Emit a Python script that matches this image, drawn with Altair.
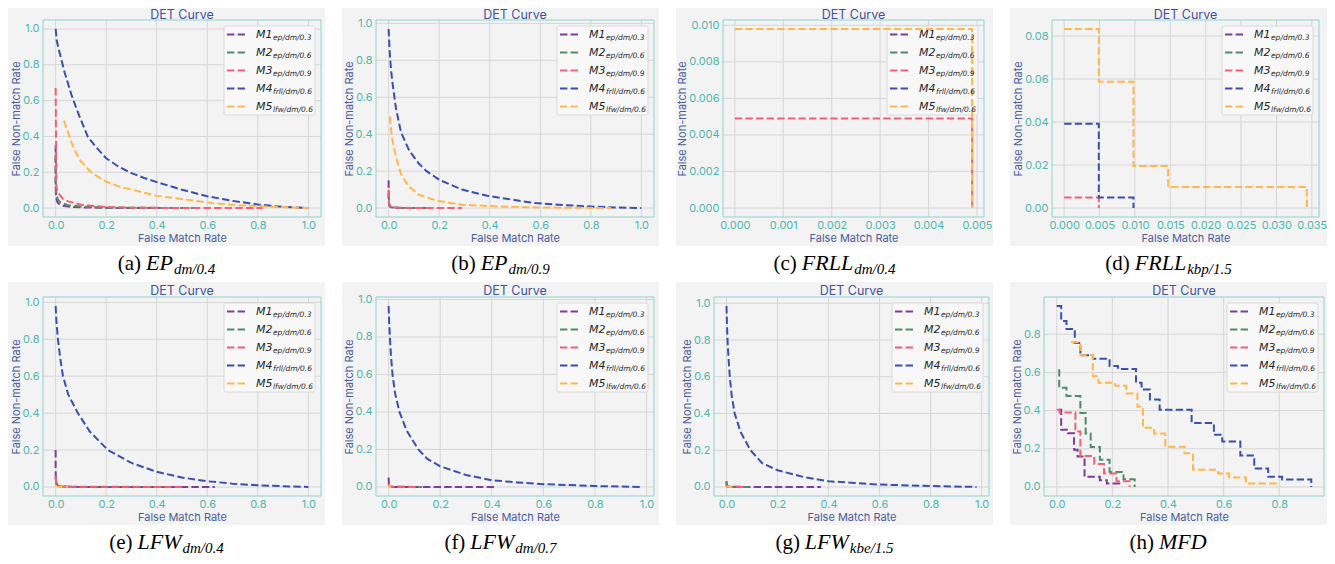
import altair as alt
import pandas as pd

# ---------------- data ----------------
MODELS = ["M1", "M2", "M3", "M4", "M5"]
MODEL_SUBS = ["ep/dm/0.3", "ep/dm/0.6", "ep/dm/0.9", "frll/dm/0.6", "lfw/dm/0.6"]
COLORS = ["#7c3f98", "#4f8b6b", "#f0607c", "#3a4fae", "#ffb74d"]

PANEL_LABELS = ["(a)", "(b)", "(c)", "(d)", "(e)", "(f)", "(g)", "(h)"]
PANEL_NAMES = ["EP", "EP", "FRLL", "FRLL", "LFW", "LFW", "LFW", "MFD"]
PANEL_SUBS = ["dm/0.4", "dm/0.9", "dm/0.4", "kbp/1.5", "dm/0.4", "dm/0.7", "kbe/1.5", ""]

TICKS_UNIT = [0.0, 0.2, 0.4, 0.6, 0.8, 1.0]
TICKS_MFD = [0.0, 0.2, 0.4, 0.6, 0.8]
TICKS_C_X = [0.000, 0.001, 0.002, 0.003, 0.004, 0.005]
TICKS_C_Y = [0.000, 0.002, 0.004, 0.006, 0.008, 0.010]
TICKS_D_X = [0.000, 0.005, 0.010, 0.015, 0.020, 0.025, 0.030, 0.035]
TICKS_D_Y = [0.00, 0.02, 0.04, 0.06, 0.08]

CURVES_A = {
    "M1": ([0.0, 0.0, 0.001, 0.003, 0.008, 0.02, 0.05, 0.1, 0.2, 0.45],
           [0.35, 0.15, 0.08, 0.05, 0.03, 0.015, 0.008, 0.004, 0.001, 0.0]),
    "M2": ([0.0, 0.0, 0.002, 0.005, 0.01, 0.02, 0.05, 0.1, 0.2, 0.55],
           [0.30, 0.14, 0.09, 0.065, 0.045, 0.03, 0.016, 0.008, 0.002, 0.0]),
    "M3": ([0.0, 0.002, 0.003, 0.008, 0.016, 0.03, 0.05, 0.1, 0.2, 0.3, 0.5, 0.82],
           [0.67, 0.3, 0.12, 0.09, 0.074, 0.05, 0.037, 0.019, 0.006, 0.002, 0.0, 0.0]),
    "M4": ([0.0, 0.005, 0.016, 0.036, 0.062, 0.088, 0.128, 0.16, 0.2, 0.25, 0.3, 0.35, 0.4, 0.5, 0.6, 0.7, 0.8, 0.9, 1.0],
           [1.0, 0.93, 0.866, 0.755, 0.635, 0.534, 0.396, 0.34, 0.278, 0.23, 0.195, 0.168, 0.145, 0.102, 0.066, 0.04, 0.02, 0.006, 0.0]),
    "M5": ([0.033, 0.05, 0.062, 0.08, 0.1, 0.14, 0.2, 0.25, 0.31, 0.4, 0.5, 0.6, 0.7, 0.84, 1.0],
           [0.488, 0.42, 0.37, 0.31, 0.26, 0.2, 0.147, 0.12, 0.1, 0.068, 0.05, 0.031, 0.018, 0.008, 0.0]),
}
CURVES_B = {
    "M1": ([0.0, 0.0, 0.001, 0.003, 0.008, 0.02, 0.05, 0.1],
           [0.15, 0.06, 0.03, 0.012, 0.005, 0.002, 0.0, 0.0]),
    "M2": ([0.0, 0.002, 0.006, 0.015, 0.04, 0.17],
           [0.08, 0.02, 0.008, 0.003, 0.001, 0.0]),
    "M3": ([0.0, 0.002, 0.006, 0.015, 0.04, 0.1, 0.29],
           [0.1, 0.025, 0.01, 0.005, 0.002, 0.0, 0.0]),
    "M4": ([0.0, 0.004, 0.01, 0.016, 0.029, 0.049, 0.082, 0.12, 0.15, 0.2, 0.29, 0.39, 0.49, 0.58, 0.69, 0.82, 0.9, 1.0],
           [0.97, 0.85, 0.74, 0.67, 0.54, 0.41, 0.31, 0.24, 0.2, 0.153, 0.1, 0.067, 0.045, 0.027, 0.016, 0.007, 0.003, 0.0]),
    "M5": ([0.005, 0.01, 0.016, 0.03, 0.05, 0.08, 0.12, 0.19, 0.29, 0.43, 0.56, 0.7, 0.88],
           [0.495, 0.42, 0.36, 0.27, 0.18, 0.117, 0.072, 0.04, 0.018, 0.009, 0.004, 0.002, 0.0]),
}
CURVES_C = {
    "M1": ([0.0049], [0.0]),
    "M2": ([0.0049], [0.0]),
    "M3": ([0.0, 0.0049, 0.0049], [0.0049, 0.0049, 0.0]),
    "M4": ([0.0049], [0.0]),
    "M5": ([0.0, 0.0049, 0.0049], [0.0098, 0.0098, 0.0]),
}
CURVES_D = {
    "M1": ([0.0], [0.0]),
    "M2": ([0.0], [0.0]),
    "M3": ([0.0, 0.0049, 0.0049], [0.0049, 0.0049, 0.0]),
    "M4": ([0.0, 0.0049, 0.0049, 0.0098, 0.0098], [0.0392, 0.0392, 0.0049, 0.0049, 0.0]),
    "M5": ([0.0, 0.0049, 0.0049, 0.0098, 0.0098, 0.0147, 0.0147, 0.0343, 0.0343],
           [0.0833, 0.0833, 0.0588, 0.0588, 0.0196, 0.0196, 0.0098, 0.0098, 0.0]),
}
CURVES_E = {
    "M1": ([0.0, 0.0, 0.001, 0.004, 0.01, 0.03, 0.1, 0.63],
           [0.2, 0.1, 0.04, 0.015, 0.007, 0.003, 0.0, 0.0]),
    "M2": ([0.0, 0.002, 0.006, 0.02, 0.06, 0.45], [0.05, 0.02, 0.008, 0.003, 0.0, 0.0]),
    "M3": ([0.0, 0.002, 0.006, 0.02, 0.06, 0.5], [0.06, 0.025, 0.01, 0.004, 0.001, 0.0]),
    "M4": ([0.0, 0.003, 0.009, 0.018, 0.029, 0.05, 0.088, 0.135, 0.207, 0.3, 0.4, 0.5, 0.6, 0.7, 0.8, 0.9, 1.0],
           [0.98, 0.9, 0.8, 0.7, 0.6, 0.5, 0.4, 0.3, 0.2, 0.13, 0.082, 0.051, 0.031, 0.018, 0.009, 0.004, 0.0]),
    "M5": ([0.0, 0.005, 0.02, 0.05], [0.01, 0.003, 0.001, 0.0]),
}
CURVES_F = {
    "M1": ([0.0, 0.001, 0.004, 0.015, 0.42], [0.05, 0.01, 0.003, 0.0, 0.0]),
    "M2": ([0.0, 0.003, 0.01, 0.13], [0.02, 0.004, 0.001, 0.0]),
    "M3": ([0.0, 0.003, 0.01, 0.12], [0.015, 0.004, 0.001, 0.0]),
    "M4": ([0.0, 0.002, 0.005, 0.009, 0.015, 0.025, 0.042, 0.07, 0.115, 0.15, 0.2, 0.3, 0.4, 0.5, 0.6, 0.8, 0.98],
           [0.965, 0.88, 0.8, 0.7, 0.6, 0.5, 0.4, 0.3, 0.2, 0.15, 0.11, 0.064, 0.036, 0.024, 0.015, 0.005, 0.0]),
    "M5": ([0.0, 0.004, 0.01], [0.01, 0.002, 0.0]),
}
CURVES_G = {
    "M1": ([0.0, 0.001, 0.005, 0.37], [0.03, 0.006, 0.0, 0.0]),
    "M2": ([0.0, 0.002, 0.01, 0.09], [0.03, 0.006, 0.001, 0.0]),
    "M3": ([0.0, 0.003, 0.07], [0.01, 0.002, 0.0]),
    "M4": ([0.0, 0.002, 0.004, 0.008, 0.013, 0.02, 0.032, 0.055, 0.094, 0.14, 0.2, 0.3, 0.4, 0.5, 0.6, 0.8, 0.98],
           [0.985, 0.88, 0.8, 0.7, 0.6, 0.5, 0.4, 0.3, 0.2, 0.13, 0.091, 0.055, 0.031, 0.022, 0.013, 0.005, 0.0]),
    "M5": ([0.0, 0.005, 0.02], [0.005, 0.001, 0.0]),
}
CURVES_H = {
    "M1": ([0.009, 0.016, 0.016, 0.04, 0.04, 0.062, 0.062, 0.075, 0.075, 0.1, 0.1, 0.155, 0.155, 0.18, 0.18, 0.225, 0.225],
           [0.405, 0.405, 0.30, 0.30, 0.282, 0.282, 0.195, 0.195, 0.16, 0.16, 0.053, 0.053, 0.035, 0.035, 0.018, 0.018, 0.0]),
    "M2": ([0.009, 0.009, 0.035, 0.035, 0.085, 0.085, 0.104, 0.104, 0.122, 0.122, 0.155, 0.155, 0.19, 0.19, 0.24, 0.24, 0.28, 0.28],
           [0.617, 0.52, 0.52, 0.476, 0.476, 0.388, 0.388, 0.28, 0.28, 0.21, 0.21, 0.143, 0.143, 0.078, 0.078, 0.04, 0.04, 0.0]),
    "M3": ([0.0, 0.01, 0.01, 0.067, 0.067, 0.085, 0.085, 0.135, 0.135, 0.17, 0.17, 0.215, 0.215, 0.262, 0.262],
           [0.405, 0.405, 0.39, 0.39, 0.29, 0.29, 0.162, 0.162, 0.12, 0.12, 0.07, 0.07, 0.03, 0.03, 0.0]),
    "M4": ([0.0, 0.016, 0.016, 0.035, 0.035, 0.065, 0.065, 0.085, 0.085, 0.13, 0.13, 0.19, 0.19, 0.22, 0.22,
            0.285, 0.285, 0.305, 0.305, 0.335, 0.335, 0.37, 0.37, 0.485, 0.485, 0.565, 0.565, 0.595, 0.595,
            0.66, 0.66, 0.71, 0.71, 0.76, 0.76, 0.81, 0.81, 0.915, 0.915],
           [0.948, 0.948, 0.87, 0.87, 0.828, 0.828, 0.754, 0.754, 0.69, 0.69, 0.672, 0.672, 0.634, 0.634, 0.618,
            0.618, 0.546, 0.546, 0.511, 0.511, 0.458, 0.458, 0.405, 0.405, 0.335, 0.335, 0.273, 0.273, 0.238,
            0.238, 0.165, 0.165, 0.097, 0.097, 0.053, 0.053, 0.039, 0.039, 0.0]),
    "M5": ([0.052, 0.085, 0.085, 0.13, 0.13, 0.15, 0.15, 0.21, 0.21, 0.25, 0.25, 0.29, 0.29, 0.31, 0.31, 0.35,
            0.35, 0.39, 0.39, 0.46, 0.46, 0.49, 0.49, 0.58, 0.58, 0.62, 0.62, 0.68, 0.68, 0.79, 0.79],
           [0.758, 0.758, 0.69, 0.69, 0.58, 0.58, 0.546, 0.546, 0.53, 0.53, 0.49, 0.49, 0.42, 0.42, 0.31, 0.31,
            0.28, 0.28, 0.211, 0.211, 0.176, 0.176, 0.09, 0.09, 0.07, 0.07, 0.05, 0.05, 0.018, 0.018, 0.0]),
}

# ---------------- style ----------------
FONT = "Inter"
BG = "#f3f3f3"
GRID = "#d6d6d6"
FRAME = "#8fd3cc"
TEAL = "#4db6ac"
NAVY = "#4a5c9c"
TITLE_C = "#3f519e"
DASH = [7.4, 3.2]
BOX_W = 317

ONE = pd.DataFrame({"k": [0]})

REG_W = {"(": .333, ")": .333, "a": .444, "b": .5, "c": .444, "d": .5, "e": .444, "f": .333, "g": .5, "h": .5}
ITC_W = {"E": .611, "P": .611, "F": .611, "R": .611, "L": .556, "W": .833, "M": .833, "D": .722}
ITS_W = {"d": .5, "m": .722, "/": .278, ".": .25, "k": .444, "b": .5, "p": .5, "e": .444}


def tw(s, table, size):
    return sum(table.get(c, 0.5) for c in s) * size


def make_panel(curves, xticks, yticks, xfmt, yfmt, W, H, L, T, TY, label, name, sub):
    R = BOX_W - L - W
    allx = [v for m in MODELS for v in curves[m][0]]
    ally = [v for m in MODELS for v in curves[m][1]]
    x0, x1 = min(allx), max(allx)
    y0, y1 = min(ally), max(ally)
    px, py = 0.05 * (x1 - x0), 0.05 * (y1 - y0)
    xscale = alt.Scale(domain=[x0 - px, x1 + px], nice=False, zero=False)
    yscale = alt.Scale(domain=[y0 - py, y1 + py], nice=False, zero=False)
    xaxis = alt.Axis(title="False Match Rate", values=xticks, format=xfmt, grid=False, domain=False,
                     ticks=False, labelPadding=2, titlePadding=2, labelFlush=False, labelOverlap=False,
                     zindex=1)
    yaxis = alt.Axis(title="False Non-match Rate", values=yticks, format=yfmt, grid=False, domain=False,
                     ticks=False, labelPadding=4, titlePadding=1, labelFlush=False, labelOverlap=False,
                     zindex=1)

    rows = []
    for m in MODELS:
        xs, ys = curves[m]
        for i, (xv, yv) in enumerate(zip(xs, ys)):
            rows.append({"model": m, "x": xv, "y": yv, "i": i})
    df = pd.DataFrame(rows)

    layers = []
    # cell bounds (transparent) and grey panel background
    layers.append(alt.Chart(ONE).mark_rect(fill="white", fillOpacity=0).encode(
        x=alt.value(-L), x2=alt.value(W + R), y=alt.value(-T), y2=alt.value(H + 65)))
    layers.append(alt.Chart(ONE).mark_rect(fill=BG).encode(
        x=alt.value(-L), x2=alt.value(W + R), y=alt.value(-T), y2=alt.value(H + 29)))
    # gridlines
    layers.append(alt.Chart(pd.DataFrame({"x": xticks})).mark_rule(color=GRID, strokeWidth=1).encode(
        x=alt.X("x:Q", scale=xscale, axis=xaxis), y=alt.value(0), y2=alt.value(H)))
    layers.append(alt.Chart(pd.DataFrame({"y": yticks})).mark_rule(color=GRID, strokeWidth=1).encode(
        y=alt.Y("y:Q", scale=yscale, axis=yaxis), x=alt.value(0), x2=alt.value(W)))
    # frame
    layers.append(alt.Chart(ONE).mark_rect(fillOpacity=0, stroke=FRAME, strokeWidth=1).encode(
        x=alt.value(0), x2=alt.value(W), y=alt.value(0), y2=alt.value(H)))
    # legend box
    bx0, bx1 = W - 97, W - 6
    layers.append(alt.Chart(ONE).mark_rect(fill="#f8f8f8", stroke="#d9d9d9", strokeWidth=1,
                                           cornerRadius=2).encode(
        x=alt.value(bx0), x2=alt.value(bx1), y=alt.value(6), y2=alt.value(95)))
    # curves
    layers.append(alt.Chart(df).mark_line(strokeWidth=2, strokeDash=DASH, strokeCap="butt").encode(
        x=alt.X("x:Q", scale=xscale, axis=xaxis),
        y=alt.Y("y:Q", scale=yscale, axis=yaxis),
        color=alt.Color("model:N", scale=alt.Scale(domain=MODELS, range=COLORS), legend=None),
        order=alt.Order("i:Q"),
    ))
    # legend entries
    for i, m in enumerate(MODELS):
        ly = 14.5 + i * 18.0
        layers.append(alt.Chart(ONE).mark_rule(color=COLORS[i], strokeWidth=2, strokeDash=DASH).encode(
            x=alt.value(bx0 + 3), x2=alt.value(bx0 + 23), y=alt.value(ly)))
        layers.append(alt.Chart(ONE).mark_text(font="DejaVu Sans", fontStyle="italic", fontSize=11,
                                               align="left", baseline="middle", color="#262626").encode(
            x=alt.value(bx0 + 32), y=alt.value(ly), text=alt.value(m)))
        layers.append(alt.Chart(ONE).mark_text(font="DejaVu Sans", fontStyle="italic", fontSize=7.5,
                                               align="left", baseline="middle", color="#262626").encode(
            x=alt.value(bx0 + 49), y=alt.value(ly + 3), text=alt.value(MODEL_SUBS[i])))
    # title
    layers.append(alt.Chart(ONE).mark_text(font=FONT, fontSize=12.5, color=TITLE_C, align="center",
                                           baseline="middle").encode(
        x=alt.value(W / 2), y=alt.value(TY), text=alt.value("DET Curve")))
    # caption
    cx = (W + R - L) / 2
    lw = tw(label, REG_W, 21)
    nw = tw(name, ITC_W, 22)
    sw = tw(sub, ITS_W, 15)
    total = lw + 5 + nw + 1 + sw
    start = cx - total / 2
    base = H + 53
    layers.append(alt.Chart(ONE).mark_text(font="Liberation Serif", fontSize=21, color="black",
                                           align="left", baseline="alphabetic").encode(
        x=alt.value(start), y=alt.value(base), text=alt.value(label)))
    layers.append(alt.Chart(ONE).mark_text(font="Liberation Serif", fontStyle="italic", fontSize=22,
                                           color="black", align="left", baseline="alphabetic").encode(
        x=alt.value(start + lw + 5), y=alt.value(base), text=alt.value(name)))
    if sub:
        layers.append(alt.Chart(ONE).mark_text(font="Liberation Serif", fontStyle="italic", fontSize=15,
                                               color="black", align="left", baseline="alphabetic").encode(
            x=alt.value(start + lw + 5 + nw + 1), y=alt.value(base + 4), text=alt.value(sub)))

    return alt.layer(*layers).properties(width=W, height=H)


# (curves, xticks, yticks, xfmt, yfmt, plot width, plot height, left margin, top margin, title y)
SPECS = [
    (CURVES_A, TICKS_UNIT, TICKS_UNIT, ".1f", ".1f", 278, 197, 35, 12, -5),
    (CURVES_B, TICKS_UNIT, TICKS_UNIT, ".1f", ".1f", 278, 197, 34, 12, -5),
    (CURVES_C, TICKS_C_X, TICKS_C_Y, ".3f", ".3f", 261, 197, 47, 12, -5),
    (CURVES_D, TICKS_D_X, TICKS_D_Y, ".3f", ".2f", 267, 197, 42, 12, -5),
    (CURVES_E, TICKS_UNIT, TICKS_UNIT, ".1f", ".1f", 278, 199, 35, 15, -6),
    (CURVES_F, TICKS_UNIT, TICKS_UNIT, ".1f", ".1f", 278, 199, 34, 15, -6),
    (CURVES_G, TICKS_UNIT, TICKS_UNIT, ".1f", ".1f", 275, 199, 38, 15, -6),
    (CURVES_H, TICKS_MFD, TICKS_MFD, ".1f", ".1f", 280, 199, 34, 15, -6),
]

panels = []
for k, spec in enumerate(SPECS):
    panels.append(make_panel(*spec, PANEL_LABELS[k], PANEL_NAMES[k], PANEL_SUBS[k]))

row1 = alt.hconcat(*panels[:4], spacing=17)
row2 = alt.hconcat(*panels[4:], spacing=17)

chart = alt.vconcat(row1, row2, spacing=0).properties(
    padding={"left": 0, "top": 0, "right": 0, "bottom": 0},
    background="white",
).configure_view(strokeWidth=0).configure_axis(
    labelFont=FONT, titleFont=FONT, labelColor=TEAL, titleColor=NAVY,
    labelFontSize=11, titleFontSize=11, titleFontWeight="normal",
)

chart.save("out.html", embed_options={"renderer": "svg", "actions": False})
